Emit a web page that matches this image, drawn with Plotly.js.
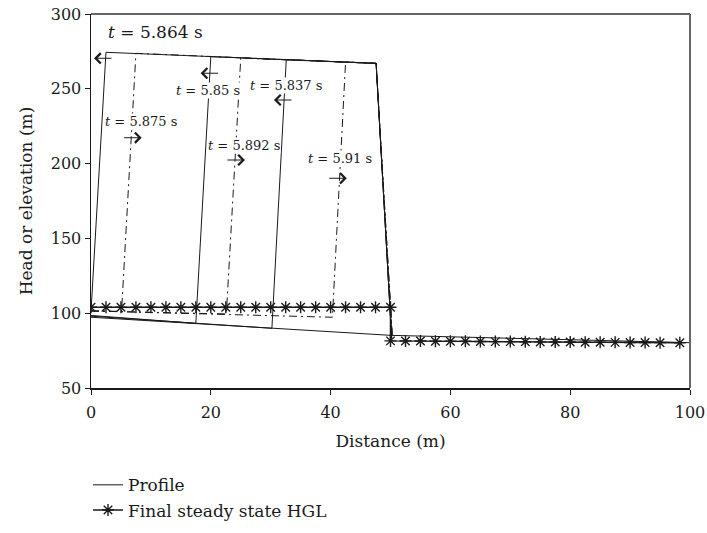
<!DOCTYPE html>
<html>
<head>
<meta charset="utf-8">
<script src="https://cdn.plot.ly/plotly-3.0.1.min.js"></script>
<style>html,body{margin:0;padding:0;background:#fff;}#chart{width:707px;height:533px;}</style>
</head>
<body>
<div id="chart"></div>
<script>
// Pipe profile
const profileX = [0, 50, 100];
const profileY = [97.3, 85.2, 80.3];

// Final steady state HGL
const hglX = [0, 2.5, 5, 7.5, 10, 12.5, 15, 17.5, 20, 22.5, 25, 27.5, 30, 32.5, 35, 37.5, 40, 42.5, 45, 47.5, 50,
              50, 52.5, 55, 57.5, 60, 62.5, 65, 67.5, 70, 72.5, 75, 77.5, 80, 82.5, 85, 87.5, 90, 92.5, 95, 98.3];
const hglY = [104, 104, 104, 104, 104, 104, 104, 104, 104, 104, 104, 104, 104, 104, 104, 104, 104, 104, 104, 104, 104,
              81.5, 81.4, 81.4, 81.3, 81.2, 81.2, 81.1, 81.0, 81.0, 80.9, 80.8, 80.8, 80.7, 80.6, 80.6, 80.5, 80.4, 80.4, 80.3, 80.2];

// Transient head profiles (solid: wave moving upstream)
const t5864X = [0, 2.5, 47.6, 50.2];
const t5864Y = [101, 274.4, 267, 83];
const t5850X = [0, 17.5, 20, 47.6, 50.2];
const t5850Y = [98.5, 93.2, 271.5, 267, 83];
const t5837X = [0, 30.2, 32.6, 47.6, 50.2];
const t5837Y = [98, 89.9, 269.5, 267, 83];

// Transient head profiles (dash-dot: wave moving downstream)
const t5875X = [0, 5.1, 7.5, 47.6, 50.3];
const t5875Y = [101.5, 101.2, 273.7, 267, 84];
const t5892X = [0, 22.6, 25, 47.6, 50.3];
const t5892Y = [101.5, 99.5, 270.5, 267, 84];
const t5910X = [0, 40.3, 42.5, 47.6, 50.3];
const t5910Y = [101.5, 97.3, 268, 267, 84];

// Labels
const labelText = ['<i>t</i> = 5.864 s', '<i>t</i> = 5.875 s', '<i>t</i> = 5.85 s', '<i>t</i> = 5.892 s', '<i>t</i> = 5.837 s', '<i>t</i> = 5.91 s'];
const labelX = [10.7, 8.4, 19.5, 25.6, 32.5, 41.6];
const labelY = [288.2, 228, 249.2, 212.4, 251.9, 203.5];
const labelSize = [17, 13, 13, 13, 13, 13];

// Direction arrows (head position, direction: -1 left, +1 right)
const arrowX = [0.5, 8.46, 18.3, 25.7, 30.55, 42.7];
const arrowY = [270.4, 217.3, 260.4, 202.4, 242.5, 190.2];
const arrowDir = [-1, 1, -1, 1, -1, 1];

const FONT = 'DejaVu Serif, Liberation Serif, serif';
const INK = '#1a1a1a';

const solid = {color: INK, width: 1};
const dashdot = {color: INK, width: 1, dash: '8px,4px,2px,4px'};

const traces = [
  {x: t5864X, y: t5864Y, mode: 'lines', line: solid, showlegend: false, hoverinfo: 'skip'},
  {x: t5850X, y: t5850Y, mode: 'lines', line: solid, showlegend: false, hoverinfo: 'skip'},
  {x: t5837X, y: t5837Y, mode: 'lines', line: solid, showlegend: false, hoverinfo: 'skip'},
  {x: t5875X, y: t5875Y, mode: 'lines', line: dashdot, showlegend: false, hoverinfo: 'skip'},
  {x: t5892X, y: t5892Y, mode: 'lines', line: dashdot, showlegend: false, hoverinfo: 'skip'},
  {x: t5910X, y: t5910Y, mode: 'lines', line: dashdot, showlegend: false, hoverinfo: 'skip'},
  {x: profileX, y: profileY, mode: 'lines', name: 'Profile', line: {color: INK, width: 1}},
  {x: hglX, y: hglY, mode: 'lines+markers', name: 'Final steady state HGL',
   line: {color: INK, width: 1.5},
   marker: {symbol: 'asterisk-open', size: 10, color: INK, line: {color: INK, width: 1.4}}}
];

const annotations = [];
for (let i = 0; i < labelText.length; i++) {
  annotations.push({x: labelX[i], y: labelY[i], xref: 'x', yref: 'y', text: labelText[i], showarrow: false,
    bgcolor: 'rgba(255,255,255,1)', borderpad: 0, font: {family: FONT, size: labelSize[i], color: INK}});
}
for (let i = 0; i < arrowX.length; i++) {
  annotations.push({x: arrowX[i], y: arrowY[i], xref: 'x', yref: 'y', text: '', showarrow: true,
    ax: -arrowDir[i] * 19, ay: 0, arrowhead: 4, arrowsize: 2.0, arrowwidth: 1, arrowcolor: INK, standoff: 0});
}

const layout = {
  width: 707, height: 533,
  margin: {l: 91, r: 17, t: 14, b: 145, autoexpand: false},
  paper_bgcolor: '#fff', plot_bgcolor: '#fff',
  font: {family: FONT, size: 16, color: INK},
  xaxis: {range: [0, 100], tickvals: [0, 20, 40, 60, 80, 100], ticks: 'outside', ticklen: 5, tickwidth: 1, tickcolor: INK,
    showline: true, linecolor: INK, linewidth: 1.5, showgrid: false, zeroline: false, automargin: false,
    ticklabelstandoff: 4,
    tickfont: {family: FONT, size: 16, color: INK},
    title: {text: 'Distance (m)', font: {family: FONT, size: 17, color: INK}, standoff: 14}},
  yaxis: {range: [50, 300], tickvals: [50, 100, 150, 200, 250, 300], ticks: 'outside', ticklen: 5, tickwidth: 1, tickcolor: INK,
    showline: true, linecolor: INK, linewidth: 1.5, showgrid: false, zeroline: false, automargin: false,
    tickfont: {family: FONT, size: 16, color: INK},
    title: {text: 'Head or elevation (m)', font: {family: FONT, size: 17, color: INK}, standoff: 14}},
  showlegend: true,
  legend: {x: -0.005, y: -0.212, xanchor: 'left', yanchor: 'top', orientation: 'v',
    font: {family: FONT, size: 17, color: INK}, bgcolor: 'rgba(0,0,0,0)'},
  shapes: [
    {type: 'line', xref: 'paper', yref: 'paper', x0: 0, x1: 1, y0: 1, y1: 1, line: {color: '#666', width: 2}},
    {type: 'line', xref: 'paper', yref: 'paper', x0: 1, x1: 1, y0: 0, y1: 1, line: {color: '#666', width: 2}}
  ],
  annotations: annotations
};

Plotly.newPlot('chart', traces, layout, {displayModeBar: false, staticPlot: true});
</script>
</body>
</html>
